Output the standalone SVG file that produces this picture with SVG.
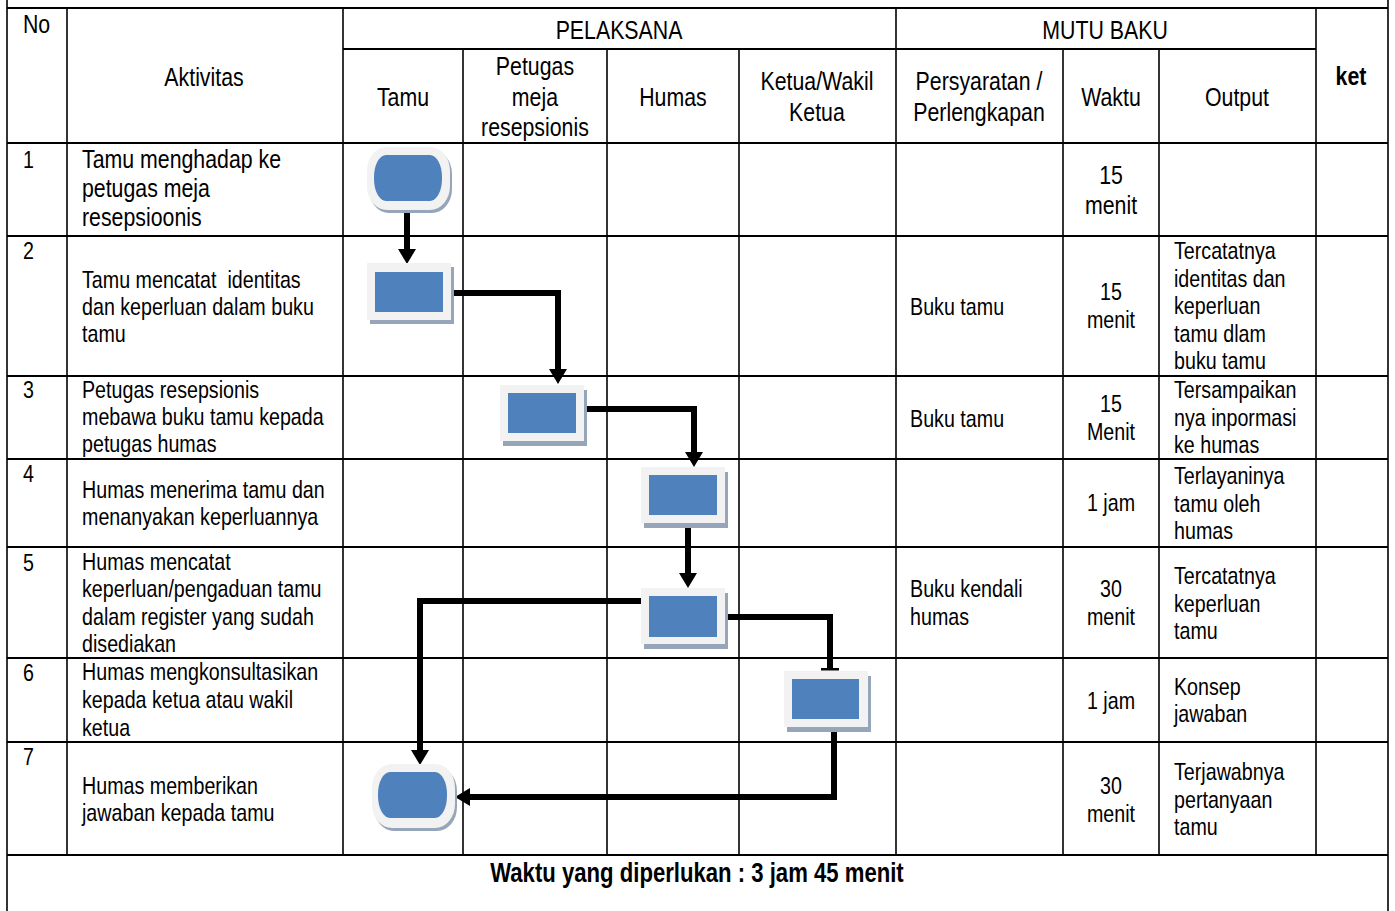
<svg xmlns="http://www.w3.org/2000/svg" width="1395" height="911" viewBox="0 0 1395 911">
<style>
.bg{fill:#ffffff}
.h{stroke:#000;stroke-width:2.2;fill:none}
.v{stroke:#000;stroke-width:1.6;fill:none}
.t{font-family:"Liberation Sans",Arial,sans-serif;font-size:24px;fill:#000}
.l{font-size:26px}
.f{font-size:27px}
.c{text-anchor:middle}
.b{font-weight:bold}
.outer{fill:#f2f2f2}
.shadow{fill:#97a5ba}
.inner{fill:#4f81bd}
.conn{stroke:#000;stroke-width:6;fill:none;stroke-linejoin:miter}
</style>
<defs>
<marker id="arr" markerUnits="userSpaceOnUse" viewBox="0 0 15 18" markerWidth="15" markerHeight="18" refX="7" refY="9" orient="auto">
<path d="M0,0 L15,9 L0,18 z" fill="#000"/>
</marker>
<marker id="tee" markerUnits="userSpaceOnUse" viewBox="0 0 4 18" markerWidth="4" markerHeight="18" refX="1" refY="9" orient="auto">
<rect x="0" y="0" width="2.5" height="18" fill="#000"/>
</marker>
</defs>
<rect class="bg" x="0" y="0" width="1395" height="911"/>

<g id="table">
<line class="h" x1="7" y1="8" x2="1388" y2="8"/>
<line class="h" x1="343" y1="49" x2="1316" y2="49"/>
<line class="h" x1="7" y1="143" x2="1388" y2="143"/>
<line class="h" x1="7" y1="236" x2="1388" y2="236"/>
<line class="h" x1="7" y1="376" x2="1388" y2="376"/>
<line class="h" x1="7" y1="459" x2="1388" y2="459"/>
<line class="h" x1="7" y1="547" x2="1388" y2="547"/>
<line class="h" x1="7" y1="658" x2="1388" y2="658"/>
<line class="h" x1="7" y1="742" x2="1388" y2="742"/>
<line class="h" x1="7" y1="855" x2="1388" y2="855"/>
<line class="v" x1="7" y1="0" x2="7" y2="911"/>
<line class="v" x1="1388" y1="0" x2="1388" y2="911"/>
<line class="v" x1="67" y1="8" x2="67" y2="855"/>
<line class="v" x1="343" y1="8" x2="343" y2="855"/>
<line class="v" x1="463" y1="49" x2="463" y2="855"/>
<line class="v" x1="607" y1="49" x2="607" y2="855"/>
<line class="v" x1="739" y1="49" x2="739" y2="855"/>
<line class="v" x1="896" y1="8" x2="896" y2="855"/>
<line class="v" x1="1063" y1="49" x2="1063" y2="855"/>
<line class="v" x1="1159" y1="49" x2="1159" y2="855"/>
<line class="v" x1="1316" y1="8" x2="1316" y2="855"/>
</g>

<g transform="scale(0.82,1)">
<g id="header" class="t l">
<text x="28" y="33">No</text>
<text class="c" x="248.8" y="86">Aktivitas</text>
<text class="c" x="754.9" y="39">PELAKSANA</text>
<text class="c" x="1347.6" y="39">MUTU BAKU</text>
<text class="c" x="491.5" y="106">Tamu</text>
<text class="c" x="652.4" y="75">Petugas</text>
<text class="c" x="652.4" y="106">meja</text>
<text class="c" x="652.4" y="136">resepsionis</text>
<text class="c" x="820.7" y="106">Humas</text>
<text class="c" x="996.3" y="90">Ketua/Wakil</text>
<text class="c" x="996.3" y="121">Ketua</text>
<text class="c" x="1193.9" y="90">Persyaratan /</text>
<text class="c" x="1193.9" y="121">Perlengkapan</text>
<text class="c" x="1354.9" y="106">Waktu</text>
<text class="c" x="1508.5" y="106">Output</text>
<text class="c b" x="1647.6" y="85">ket</text>
</g>

<g id="row1" class="t">
<text x="28" y="168">1</text>
<text class="l" x="100" y="168">Tamu menghadap ke</text>
<text class="l" x="100" y="197">petugas meja</text>
<text class="l" x="100" y="226">resepsioonis</text>
<text class="l c" x="1354.9" y="184">15</text>
<text class="l c" x="1354.9" y="214">menit</text>
</g>

<g id="row2" class="t">
<text x="28" y="259">2</text>
<text x="100" y="288" xml:space="preserve">Tamu mencatat  identitas</text>
<text x="100" y="315">dan keperluan dalam buku</text>
<text x="100" y="342">tamu</text>
<text x="1109.8" y="315">Buku tamu</text>
<text class="c" x="1354.9" y="300">15</text>
<text class="c" x="1354.9" y="328">menit</text>
<text x="1431.7" y="259">Tercatatnya</text>
<text x="1431.7" y="287">identitas dan</text>
<text x="1431.7" y="314">keperluan</text>
<text x="1431.7" y="342">tamu dlam</text>
<text x="1431.7" y="369">buku tamu</text>
</g>

<g id="row3" class="t">
<text x="28" y="398">3</text>
<text x="100" y="398">Petugas resepsionis</text>
<text x="100" y="425">mebawa buku tamu kepada</text>
<text x="100" y="452">petugas humas</text>
<text x="1109.8" y="427">Buku tamu</text>
<text class="c" x="1354.9" y="412">15</text>
<text class="c" x="1354.9" y="440">Menit</text>
<text x="1431.7" y="398">Tersampaikan</text>
<text x="1431.7" y="426">nya inpormasi</text>
<text x="1431.7" y="453">ke humas</text>
</g>

<g id="row4" class="t">
<text x="28" y="482">4</text>
<text x="100" y="498">Humas menerima tamu dan</text>
<text x="100" y="525">menanyakan keperluannya</text>
<text class="c" x="1354.9" y="511">1 jam</text>
<text x="1431.7" y="484">Terlayaninya</text>
<text x="1431.7" y="512">tamu oleh</text>
<text x="1431.7" y="539">humas</text>
</g>

<g id="row5" class="t">
<text x="28" y="571">5</text>
<text x="100" y="570">Humas mencatat</text>
<text x="100" y="597">keperluan/pengaduan tamu</text>
<text x="100" y="625">dalam register yang sudah</text>
<text x="100" y="652">disediakan</text>
<text x="1109.8" y="597">Buku kendali</text>
<text x="1109.8" y="625">humas</text>
<text class="c" x="1354.9" y="597">30</text>
<text class="c" x="1354.9" y="625">menit</text>
<text x="1431.7" y="584">Tercatatnya</text>
<text x="1431.7" y="612">keperluan</text>
<text x="1431.7" y="639">tamu</text>
</g>

<g id="row6" class="t">
<text x="28" y="681">6</text>
<text x="100" y="680">Humas mengkonsultasikan</text>
<text x="100" y="708">kepada ketua atau wakil</text>
<text x="100" y="736">ketua</text>
<text class="c" x="1354.9" y="709">1 jam</text>
<text x="1431.7" y="695">Konsep</text>
<text x="1431.7" y="722">jawaban</text>
</g>

<g id="row7" class="t">
<text x="28" y="765">7</text>
<text x="100" y="794">Humas memberikan</text>
<text x="100" y="821">jawaban kepada tamu</text>
<text class="c" x="1354.9" y="794">30</text>
<text class="c" x="1354.9" y="822">menit</text>
<text x="1431.7" y="780">Terjawabnya</text>
<text x="1431.7" y="808">pertanyaan</text>
<text x="1431.7" y="835">tamu</text>
</g>

<g id="footer" class="t f b">
<text class="c" x="850" y="882">Waktu yang diperlukan : 3 jam 45 menit</text>
</g>
</g>

<g id="connectors">
<path class="conn" d="M407,208 V256" marker-end="url(#arr)"/>
<path class="conn" d="M451,293 H558 V376" marker-end="url(#arr)"/>
<path class="conn" d="M584,409 H694 V459" marker-end="url(#arr)"/>
<path class="conn" d="M688,523 V580" marker-end="url(#arr)"/>
<path class="conn" d="M725,617 H830 V669" marker-end="url(#tee)"/>
<path class="conn" d="M834,727 V797 H463" marker-end="url(#arr)"/>
<path class="conn" d="M641,601 H420 V757" marker-end="url(#arr)"/>
</g>

<g id="n1">
<rect class="shadow" x="369" y="150" width="83" height="63" rx="20" ry="24"/>
<rect class="outer" x="367" y="147" width="83" height="63" rx="20" ry="24"/>
<rect class="inner" x="374" y="155" width="68" height="46" rx="12" ry="22"/>
</g>
<g id="n2">
<rect class="shadow" x="370" y="267" width="84" height="57"/>
<rect class="outer" x="367" y="263" width="84" height="57"/>
<rect class="inner" x="375" y="272" width="68" height="40"/>
</g>
<g id="n3">
<rect class="shadow" x="503" y="390" width="84" height="56"/>
<rect class="outer" x="500" y="385" width="84" height="56"/>
<rect class="inner" x="508" y="393" width="68" height="40"/>
</g>
<g id="n4">
<rect class="shadow" x="644" y="472" width="84" height="56"/>
<rect class="outer" x="641" y="467" width="84" height="56"/>
<rect class="inner" x="649" y="475" width="68" height="40"/>
</g>
<g id="n5">
<rect class="shadow" x="644" y="593" width="84" height="56"/>
<rect class="outer" x="641" y="588" width="84" height="56"/>
<rect class="inner" x="649" y="596" width="68" height="41"/>
</g>
<g id="n6">
<rect class="shadow" x="787" y="676" width="84" height="56"/>
<rect class="outer" x="784" y="671" width="84" height="56"/>
<rect class="inner" x="792" y="679" width="67" height="40"/>
</g>
<g id="n7">
<rect class="shadow" x="374" y="767" width="83" height="64" rx="20" ry="24"/>
<rect class="outer" x="372" y="764" width="83" height="64" rx="20" ry="24"/>
<rect class="inner" x="378" y="772" width="69" height="46" rx="12" ry="22"/>
</g>
</svg>
